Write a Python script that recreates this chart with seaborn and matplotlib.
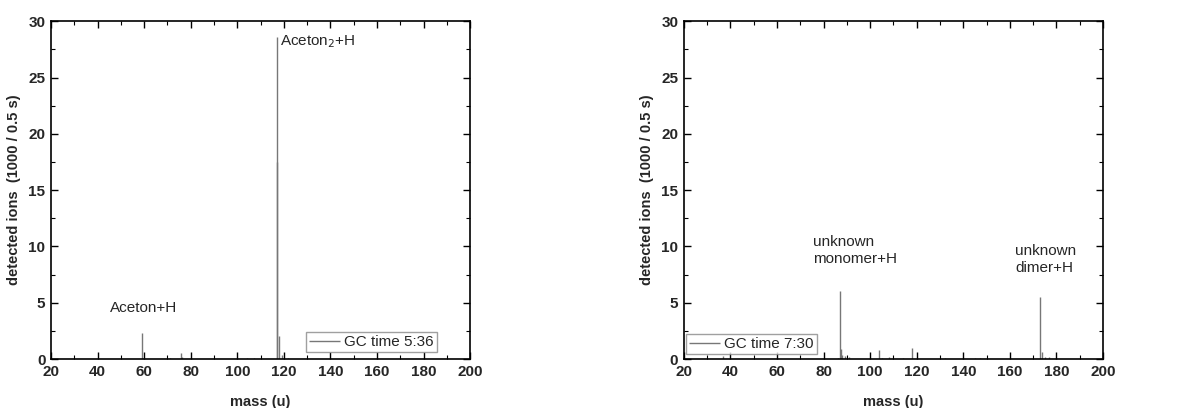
import matplotlib
matplotlib.use('Agg')
import matplotlib.pyplot as plt
import seaborn as sns
from matplotlib.ticker import MultipleLocator

# left spectrum (GC time 5:36)
mass_a = [59, 60, 71, 76, 76.3, 104, 107, 117, 117.2, 118, 119, 122, 150, 170]
ions_a = [2.3, 0.1, 0.05, 0.5, 0.2, 0.1, 0.08, 28.6, 17.5, 2.05, 0.4, 0.05, 0.04, 0.04]

# right spectrum (GC time 7:30)
mass_b = [37, 86, 87, 87.3, 88, 89, 91, 104, 105, 108, 114, 118, 132, 145, 147, 173, 174, 175, 177]
ions_b = [0.25, 0.1, 6.0, 0.9, 0.4, 0.3, 0.2, 0.8, 0.1, 0.2, 0.1, 1.0, 0.05, 0.1, 0.08, 5.5, 0.65, 0.15, 0.15]

label_a = 'GC time 5:36'
label_b = 'GC time 7:30'

sns.set_theme(style='ticks')
plt.rcParams['font.family'] = ['Liberation Sans', 'DejaVu Sans']

fig, (ax1, ax2) = plt.subplots(1, 2, figsize=(11.86, 4.08), dpi=100)
fig.subplots_adjust(left=0.043, right=0.930, top=0.948, bottom=0.12, wspace=0.51)

line_col = '#777777'


def draw_spectrum(ax, mass, ions, label, loc, anchor):
    ax.axhline(0.03, color=line_col, lw=0.8, zorder=1)
    ax.vlines(mass, 0, ions, colors=line_col, lw=1.0, label=label)
    ax.set_xlim(20, 200)
    ax.set_ylim(0, 30)
    ax.xaxis.set_major_locator(MultipleLocator(20))
    ax.xaxis.set_minor_locator(MultipleLocator(10))
    ax.yaxis.set_major_locator(MultipleLocator(5))
    ax.yaxis.set_minor_locator(MultipleLocator(2.5))
    ax.tick_params(which='both', direction='in', top=True, right=True, color='black')
    ax.tick_params(which='major', length=5, width=1, labelsize=11, pad=4)
    ax.tick_params(which='minor', length=3, width=0.8)
    for lab in ax.get_xticklabels() + ax.get_yticklabels():
        lab.set_fontweight('bold')
    for sp in ax.spines.values():
        sp.set_linewidth(1.2)
        sp.set_color('black')
    ax.set_xlabel('mass (u)', fontsize=10.5, fontweight='bold', labelpad=12)
    ax.set_ylabel('detected ions  (1000 / 0.5 s)', fontsize=10.5, fontweight='bold', labelpad=5)
    leg = ax.legend(loc=loc, bbox_to_anchor=anchor, fontsize=11, frameon=True, fancybox=False,
                    handlelength=2.0, handletextpad=0.3, borderpad=0.2, borderaxespad=0.0)
    leg.get_frame().set_edgecolor('#888888')
    leg.get_frame().set_linewidth(1.0)


draw_spectrum(ax1, mass_a, ions_a, label_a, 'lower right', (0.921, 0.02))
draw_spectrum(ax2, mass_b, ions_b, label_b, 'lower left', (0.005, 0.015))

ax1.text(45.5, 4.5, 'Aceton+H', fontsize=11, va='center', ha='left')
ax1.text(118.4, 28.2, r'Aceton$_2$+H', fontsize=11, va='center', ha='left')
ax2.text(75.6, 9.65, 'unknown\nmonomer+H', fontsize=11, va='center', ha='left', linespacing=1.3)
ax2.text(162.4, 8.85, 'unknown\ndimer+H', fontsize=11, va='center', ha='left', linespacing=1.3)

plt.savefig('out.png', dpi=100)
